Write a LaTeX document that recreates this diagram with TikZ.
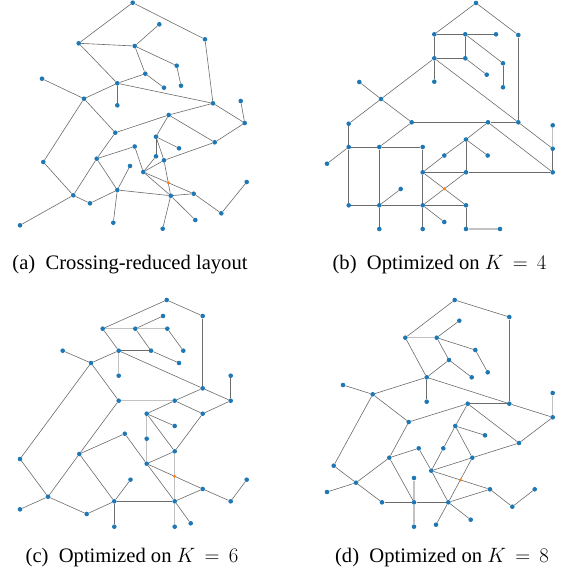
\documentclass[tikz,border=0pt]{standalone}
\usepackage{fontspec}
\setmainfont{Liberation Serif}
\definecolor{nodeblue}{HTML}{1F77B4}
\definecolor{crossorange}{HTML}{FF7F0E}
\pgfdeclarelayer{edgelayer}
\pgfsetlayers{edgelayer,main}
\tikzset{
  dot/.style={circle, fill=nodeblue, draw=none, inner sep=0pt, minimum size=4.6pt},
  crossdot/.style={circle, fill=crossorange, draw=none, inner sep=0pt, minimum size=3.2pt},
  edge/.style={draw=black!58, line width=0.6pt},
  lightedge/.style={draw=black!24, line width=1.4pt},
  captext/.style={anchor=base, inner sep=0pt, font=\fontsize{20.6}{24}\selectfont}
}
\begin{document}
\begin{tikzpicture}[x=1pt,y=-1pt]
\useasboundingbox (0,0) rectangle (566,576);
% ---------- panel (a) ----------
\foreach \n/\x/\y in {a1/132.7/2.7, a2/78.7/43.3, a3/134.7/46, a4/42/78.7, a5/117.3/83.3,
  a6/84/98.7, a7/117.3/105.3, a8/115.3/132.7, a9/134.7/146.5, a10/43.3/162,
  a11/96.7/158.7, a12/130/166, a13/117.3/190, a14/73.3/195.3, a15/90/203.3,
  a16/113.3/222.7, a17/20/225.3, b1/205/39.3, b2/159.3/24.3, b3/176.7/65.7,
  b4/181/85.7, b5/145.3/73.7, b6/164/87.7, b7/213/103.3, b8/240.7/101,
  b9/244.7/123, b10/168.7/115, b11/214.7/142.3, b12/156/136.7, b13/179/148.3,
  b14/156/156.3, b15/164/160.3, b16/143.3/172, b17/193.7/193.7, b18/170.7/195.7,
  b19/246.7/182, b20/221.3/213.3, b21/195.3/220, b22/162.7/228.7}
  \node[dot] (\n) at (\x,\y) {};
% ---------- panel (b) ----------
\foreach \n/\x/\y in {d1/476/3, c1/434.3/34.3, d2/465.3/34.3, d3/496/34.3, d4/518.3/35,
  c2/434.3/58.3, d5/465.3/58.3, d6/503/63.3, d7/486.7/74.7, d8/503/87.3,
  c3/434.3/81.7, c4/359.3/82, c5/381/99, c6/348.7/123.7, c7/411.7/122.3,
  d9/518.3/122.3, d10/488/122.3, d11/552.7/125.3, d12/466/139.5, c8/348.7/147,
  c9/379.3/147, c10/422.7/147, d13/444.3/155.5, d14/487.7/155.5, d15/552.7/148.7,
  c11/327/163.7, c12/422.7/172.3, d16/466/172.3, d17/552.7/172.3, c13/400.7/189,
  c14/348.7/205.3, c15/379.3/205.3, c16/422.7/205.3, d18/466/205.3,
  q1/379.3/229, q2/444.3/222, q3/422.7/229, q4/466/229, q5/500/229}
  \node[dot] (\n) at (\x,\y) {};
% ---------- panel (c) ----------
\foreach \n/\x/\y in {e1/102.7/328.7, e2/135.3/328.7, e3/62.7/350.7, e4/118.7/350.7,
  e5/91/363, e6/118.7/375.7, e7/118.7/400.7, e8/124.8/433.7, e9/20/459,
  e10/79.3/454, e11/130.5/479.7, e12/48/496.7, e13/20/509.3, e14/114.3/501.3,
  e15/86.7/514, e16/114.3/526.7, f1/166.7/300, f2/202.7/316, f3/163/316,
  f4/167.3/328.7, f5/183.3/350.7, f6/151/350.7, f7/179/363, f8/202.7/388.3,
  f9/230.7/375.7, f10/230.7/400.7, f11/174.7/400.7, f12/202.7/413.7,
  f13/146.7/413.7, f14/174.7/426, f15/146.7/438.7, f16/174.7/451.3,
  f17/146.7/463.7, f18/202.7/489, f19/246.7/479.7, f20/230.7/501.3,
  f21/174.7/501.3, f22/190.7/523.3, f23/174.7/526.7}
  \node[dot] (\n) at (\x,\y) {};
% ---------- panel (d) ----------
\foreach \n/\x/\y in {g1/405.3/337.7, g2/436.7/337.7, g3/343/385, g4/426.7/377.3,
  g5/372.7/394.3, g6/426.7/401.7, g7/408.7/422, g8/418.7/448.3, g9/443.3/448.3,
  g10/389.3/457.7, g11/333.7/465.7, g12/431.3/470.7, g13/356/482.7, g14/327/492,
  g15/414/478, g16/382/502.3, g17/414/502.3, g18/414/526.7, g19/436/524.7,
  h1/454.7/300, h2/509.3/317, h3/459.3/320.7, h4/475.3/350, h5/487.7/372.3,
  h6/449/360, h7/471.7/377.3, h8/552.7/393, h9/467.7/403.7, h10/509.3/403.7,
  h11/552.7/417.3, h12/455.3/426, h13/485/435.3, h14/519/443, h15/472.3/457.7,
  h16/490/489.3, h17/534.7/489.3, h18/512.3/506.7, h19/448.3/502.3, h20/470.7/519.7}
  \node[dot] (\n) at (\x,\y) {};
% ---------- crossing marks ----------
\node[crossdot] (xa) at (intersection of b16--b17 and b15--b18) {};
\node[crossdot] (xb) at (intersection of c12--d18 and d16--c16) {};
\node[crossdot] (xc) at (intersection of f17--f18 and f16--f21) {};
\node[crossdot] (xd) at (intersection of g12--h16 and h15--h19) {};
% ---------- edges ----------
\begin{pgfonlayer}{edgelayer}
% (a)
\foreach \u/\v in {a2/a1, a1/b1, b1/b7, a2/a3, a3/b3, a3/b2, b3/b4, a3/b5, b5/b6,
  a2/a5, a5/b5, a5/b7, a6/a4, a6/a5, a6/a8, a6/a10, a5/a7, a8/b10, a8/a11,
  b7/b10, b7/b9, b8/b9, b9/b11, b10/b12, b10/b11, b12/b13, b12/b14, b12/b15,
  b14/b16, b11/b15, b16/b15, b16/b18, b16/b17, b15/b18, a9/b16, a9/a11,
  a11/a14, a11/a13, a10/a14, a14/a17, a14/a15, a15/a13, a13/a12, a13/a16,
  a13/b18, b18/b17, b17/b20, b20/b19, b18/b21, b18/b22}
  \draw[edge] (\u) -- (\v);
% (b)
\foreach \u/\v in {c1/d1, d1/d4, d4/d9, c1/d2, d2/d6, d2/d3, d6/d8, d2/d5, d5/d7,
  c1/c2, c2/d5, c2/d9, c5/c4, c5/c2, c5/c7, c5/c6, c2/c3, c7/d10, c7/c9,
  d9/d10, d9/d15, d15/d17, d10/d12, d10/d17, d12/d14, d12/d13, d12/d16,
  d13/c12, d17/d16, c12/d16, c12/c16, c12/d18, d16/c16, c10/c12, c10/c9,
  c9/c8, c9/c15, c6/c8, c8/c11, c8/c14, c14/c15, c15/c13, c15/q1, c15/c16,
  c16/d18, d18/q4, c16/q2, c16/q3}
  \draw[edge] (\u) -- (\v);
\foreach \u/\v in {d11/d15, q4/q5}
  \draw[lightedge] (\u) -- (\v);
% (c)
\foreach \u/\v in {e1/f1, f1/f2, f2/f8, e2/f3, f4/f5, e2/f6, f6/f7, e1/e4,
  e4/f6, e4/f8, e5/e3, e5/e4, e5/e7, e5/e9, e7/e10, f8/f11, f8/f10, f9/f10,
  f10/f12, f11/f13, f11/f12, f13/f14, f13/f16, f12/f16, f17/f16, f17/f21,
  f17/f18, e8/f17, e8/e10, e10/e12, e10/e14, e9/e12, e12/e13, e12/e15,
  e15/e14, e14/e11, e14/e16, e14/f21, f21/f18, f18/f20, f20/f19, f21/f22}
  \draw[edge] (\u) -- (\v);
\foreach \u/\v in {e1/e2, e2/f4, e4/e6, e7/f11, f13/f15, f15/f17, f16/f21, f21/f23}
  \draw[lightedge] (\u) -- (\v);
% (d)
\foreach \u/\v in {g1/h1, h1/h2, h2/h10, g2/h4, g2/h3, h4/h5, g2/h6, h6/h7,
  g1/g4, g4/h6, g4/h10, g5/g3, g5/g4, g5/g7, g5/g11, g4/g6, g7/h9, g7/g10,
  h10/h9, h10/h11, h11/h14, h9/h12, h9/h14, h12/h13, h12/g9, h12/h15,
  g9/g12, h14/h15, g12/h15, g12/h19, g12/h16, h15/h19, g8/g12, g8/g10,
  g10/g13, g10/g17, g11/g13, g13/g14, g13/g16, g16/g17, g17/h19, h19/h16,
  h16/h18, h18/h17, h19/h20, h19/g19}
  \draw[edge] (\u) -- (\v);
\foreach \u/\v in {g1/g2, h8/h11, g17/g15, g17/g18}
  \draw[lightedge] (\u) -- (\v);
\end{pgfonlayer}
% ---------- captions ----------
\node[captext] (capa) at (130,269.5) {(a)\hspace{0.5em}Crossing-reduced layout};
\node[captext] (capb) at (439.5,269.5) {(b)\hspace{0.5em}Optimized on $K\,=\,4$};
\node[captext] (capc) at (132,562) {(c)\hspace{0.5em}Optimized on $K\,=\,6$};
\node[captext] (capd) at (442,562) {(d)\hspace{0.5em}Optimized on $K\,=\,8$};
\end{tikzpicture}
\end{document}
